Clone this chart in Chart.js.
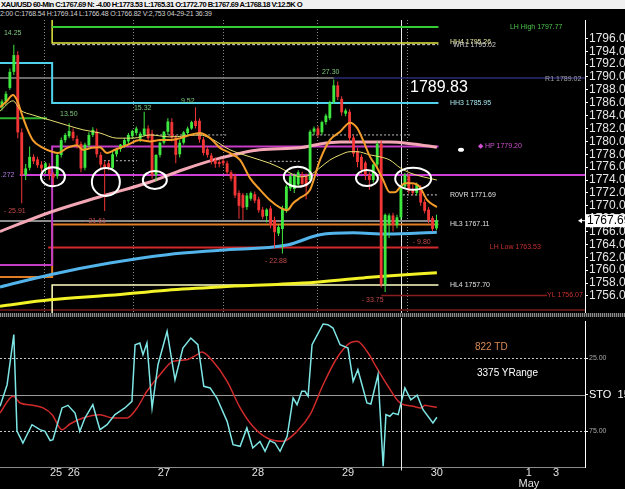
<!DOCTYPE html>
<html>
  <head>
    <meta charset="utf-8">
    <style>
      body {
        margin: 0;
        background: #000;
        width: 625px;
        height: 489px;
        overflow: hidden;
        position: relative;
        font-family: Arial, "Liberation Sans", sans-serif;
      }
      .quote {
        position: absolute; left: 0; top: 0; width: 625px; height: 9px;
        background: #f0f0f0; color: #000;
        font-size: 7.6px; font-weight: bold; line-height: 9px; letter-spacing: -0.55px;
        white-space: nowrap; padding-left: 1px; box-sizing: border-box;
      }
      .lastbar {
        position: absolute; left: 0; top: 9px; height: 9px;
        color: #d0d0d0; font-size: 7px; line-height: 9px; letter-spacing: -0.2px; white-space: nowrap;
      }
      #priceChart { position: absolute; left: 0; top: 20px; }
      #stoChart { position: absolute; left: 0; top: 318px; }
      .split {
        position: absolute; left: 0; top: 313px; width: 625px; height: 4px;
        background: repeating-linear-gradient(90deg, #8a8a8a 0 1px, #2a2a2a 1px 2px);
      }
      .note { position: absolute; font-size: 10px; white-space: nowrap; }
    </style>
    <script src="https://cdn.jsdelivr.net/npm/chart.js"></script>
  </head>
  <body>
    <div class="quote">XAU/USD 60-Min C:1767.69 N: -4.00 H:1773.53 L:1765.31 O:1772.70 B:1767.69 A:1768.18 V:12.5K O</div>
    <div class="lastbar">2:00 C:1768.54 H:1769.14 L:1766.48 O:1766.82 V:2,753 04-29-21 36:39</div>
    <canvas id="priceChart" width="625" height="293"></canvas>
    <div class="split"></div>
    <canvas id="stoChart" width="625" height="171"></canvas>
    <div class="note" style="left:475px; top:341px; color:#d98b55;">822 TD</div>
    <div class="note" style="left:477px; top:367px; color:#ffffff;">3375 YRange</div>
    <script>
      // 60 min bars, index 0 = first bar on screen
      var barOpen = [1785.3,1786.2,1788.3,1790.8,1793.4,1781.4,1774.8,1775.9,1777.6,1777.2,
        1776.4,1775.6,1776.2,1774.9,1774.6,1777.9,1780.2,1780.8,1781.5,1780.4,
        1779.6,1775.9,1779.4,1781.0,1781.5,1777.9,1776.4,1776.6,1775.9,1778.0,
        1778.8,1779.4,1780.0,1780.8,1781.3,1780.4,1781.0,1782.0,1781.2,1774.8,
        1777.9,1779.8,1781.5,1783.0,1780.6,1778.0,1779.8,1781.3,1782.0,1783.2,
        1783.2,1780.3,1778.8,1777.8,1777.1,1776.8,1777.0,1776.6,1775.2,1774.6,
        1772.0,1771.7,1769.8,1771.1,1771.8,1771.0,1769.4,1768.4,1769.6,1767.8,
        1765.7,1766.4,1769.3,1772.7,1772.6,1773.3,1774.8,1774.6,1774.0,1781.5,
        1782.0,1781.4,1783.0,1783.6,1786.1,1788.7,1786.6,1784.3,1784.6,1780.6,
        1778.5,1777.6,1776.7,1774.8,1774.0,1776.4,1779.6,1757.8,1767.2,1768.5,
        1767.0,1768.2,1773.0,1774.6,1772.6,1772.0,1772.9,1770.6,1769.4,1768.1,1766.5];
      var barHigh = [1786.5,1787.8,1791.3,1795.0,1794.0,1782.0,1776.5,1779.2,1778.0,1777.6,
        1776.9,1776.8,1776.6,1775.2,1778.2,1780.6,1781.3,1782.8,1782.0,1780.9,
        1780.0,1779.8,1781.4,1782.2,1782.0,1778.3,1776.9,1777.0,1778.4,1779.0,
        1779.6,1780.5,1781.3,1781.8,1782.3,1781.5,1784.6,1782.5,1781.8,1778.0,
        1780.0,1781.6,1783.6,1783.6,1781.0,1780.2,1781.6,1782.3,1783.2,1785.3,
        1783.6,1780.7,1779.2,1778.2,1777.5,1777.2,1777.3,1777.0,1775.5,1775.0,
        1772.4,1772.0,1772.0,1772.2,1772.2,1771.4,1769.8,1769.6,1770.0,1768.3,
        1767.0,1770.0,1773.3,1775.0,1775.0,1775.5,1775.3,1775.0,1781.8,1782.3,
        1782.4,1783.2,1784.3,1786.3,1789.6,1789.3,1787.0,1785.1,1785.0,1781.0,
        1779.0,1778.0,1777.0,1775.2,1776.6,1780.0,1780.2,1768.8,1768.8,1768.9,
        1768.6,1773.3,1775.1,1775.0,1773.3,1773.6,1773.2,1771.0,1769.8,1768.4,1768.6];
      var barLow = [1784.8,1785.6,1788.0,1790.3,1780.5,1770.4,1774.0,1775.5,1776.5,1775.9,
        1775.3,1775.0,1774.0,1773.0,1774.2,1777.5,1779.8,1780.5,1780.1,1778.9,
        1775.2,1775.5,1779.1,1780.7,1777.5,1775.8,1769.2,1775.5,1775.5,1777.6,
        1778.4,1779.0,1779.6,1780.4,1780.9,1779.9,1780.8,1780.0,1774.2,1773.8,
        1777.5,1779.5,1781.0,1780.0,1776.6,1777.5,1779.5,1781.0,1781.8,1782.0,
        1779.8,1777.8,1777.5,1776.4,1775.9,1776.0,1776.2,1774.8,1773.8,1771.2,
        1768.0,1767.8,1769.4,1770.8,1770.4,1768.9,1767.9,1767.4,1766.5,1763.5,
        1765.3,1762.6,1768.9,1772.3,1772.0,1773.0,1773.0,1771.0,1773.5,1781.0,
        1780.6,1781.0,1782.6,1783.3,1785.8,1786.4,1784.0,1783.9,1780.0,1777.6,
        1776.0,1775.0,1774.0,1772.5,1773.6,1776.0,1757.3,1756.6,1765.0,1766.0,
        1766.5,1767.8,1772.7,1771.9,1771.6,1771.6,1770.0,1768.8,1767.3,1766.0,1766.2];
      var barClose = [1786.2,1787.4,1790.8,1793.4,1781.4,1774.8,1775.8,1777.6,1776.9,1776.3,
        1775.8,1776.6,1774.9,1774.4,1777.9,1780.2,1781.0,1781.6,1780.5,1779.5,
        1775.8,1779.5,1781.0,1781.8,1778.0,1776.4,1775.9,1776.0,1778.0,1778.7,
        1779.5,1780.2,1781.0,1781.6,1782.0,1781.2,1782.0,1780.5,1774.8,1777.9,
        1779.8,1781.5,1783.1,1780.6,1777.9,1779.8,1781.4,1782.0,1783.0,1782.4,
        1780.3,1778.2,1777.9,1776.9,1776.5,1776.5,1776.6,1775.2,1774.2,1771.6,
        1770.0,1769.7,1771.6,1772.0,1770.8,1769.3,1768.3,1769.4,1767.0,1765.9,
        1766.7,1769.5,1773.0,1774.6,1774.7,1775.2,1773.4,1773.0,1781.5,1782.0,
        1781.0,1783.0,1784.0,1786.0,1788.7,1786.9,1784.5,1784.8,1780.5,1778.1,
        1776.8,1775.6,1774.8,1774.0,1776.4,1779.6,1757.8,1768.6,1768.5,1767.0,
        1768.2,1773.0,1774.8,1772.3,1772.0,1773.3,1770.5,1769.2,1767.8,1766.4,1767.7];
      var lastPrice = 1767.69;

      // moving averages: [bar index, price]
      var maFast = [[-0.5,1785.3],[1,1786.1],[2.8,1787.2],[3.8,1786.4],[5.1,1784.1],[6.3,1782.1],
        [7.8,1780.2],[10.4,1779.0],[12.7,1778.4],[14.2,1778.2],[16.5,1779.0],[19,1779.4],
        [20.5,1778.7],[22.8,1779.0],[24.8,1779.1],[26.6,1778.2],[28.6,1778.7],[31.6,1779.4],
        [34.9,1780.2],[37.5,1780.0],[40,1780.2],[42.5,1780.2],[45.1,1780.5],[47.6,1781.0],
        [50.1,1781.3],[52.7,1780.5],[55.2,1779.0],[57.7,1778.2],[60.3,1777.1],[62.8,1774.3],
        [65.3,1772.5],[67.8,1770.9],[70.4,1769.7],[72.2,1769.3],[73.7,1770.4],[75.4,1771.2],
        [78,1772.5],[80.5,1777.1],[83,1780.2],[85.6,1781.5],[88.1,1782.9],[89.9,1782.1],
        [91.4,1780.2],[93.2,1777.6],[94.9,1776.0],[96.5,1774.0],[98.2,1772.1],[99.5,1772.1],
        [100.8,1772.9],[102,1773.5],[103.8,1773.5],[105.8,1772.9],[107.6,1770.9],[110.1,1769.8]];
      var maMid = [[-0.5,1784.7],[2.8,1786.3],[4.6,1784.9],[7.8,1784.1],[12.2,1783.3],[16.5,1782.5],
        [20.5,1781.8],[24.8,1781.3],[29.1,1780.5],[33.2,1780.5],[37.5,1781.0],[42.5,1780.7],
        [50.1,1781.0],[52.7,1780.5],[57.7,1778.7],[62.8,1777.6],[67.8,1776.6],[70.4,1775.9],
        [72.9,1775.1],[75.4,1774.5],[78,1774.8],[80.5,1775.9],[83,1777.1],[85.6,1777.9],
        [88.1,1778.4],[89.9,1778.4],[93.2,1777.9],[95.7,1777.6],[98.2,1777.1],[100.8,1775.9],
        [103.3,1775.1],[106.6,1774.5],[110.1,1774.0]];
      var maPink = [[-0.5,1766.0],[12.2,1769.0],[24.8,1771.4],[37.5,1773.7],[45.8,1775.6],
        [55.2,1777.4],[65.3,1778.7],[75.4,1779.0],[80.5,1779.6],[85.6,1779.9],[98.2,1779.9],
        [104,1779.6],[110.1,1779.1]];
      var maBlue = [[-0.5,1757.4],[12.2,1759.3],[27.3,1761.1],[41.8,1762.4],[55.2,1763.1],
        [72.2,1763.9],[80.5,1765.5],[88.9,1765.8],[97.5,1765.6],[110.1,1765.9]];
      var maYellow = [[-0.5,1754.4],[12.2,1755.4],[27.3,1756.1],[41.8,1756.9],[55.2,1757.4],
        [76.2,1758.0],[91.4,1758.8],[97.5,1759.1],[110.1,1759.6]];

      // pivot and level lines: [bar index, price] vertices
      var lvlLHHigh = [[12.7,1797.77],[110.5,1797.77]];
      var lvlHH4 = [[12.7,1798.85],[12.7,1795.26],[110.5,1795.26]];
      var lvlWR1 = [[12.7,1795.02],[110.5,1795.02]];
      var lvlHH3 = [[-0.5,1792.17],[12.7,1792.17],[12.7,1785.95],[110.5,1785.95]];
      var lvlPrevHigh = [[-0.5,1789.83],[84,1789.83]];
      var lvlR1 = [[84,1789.83],[147.6,1789.83]];
      var lvlHP = [[-0.5,1760.8],[12.7,1760.8],[12.7,1779.20],[110.5,1779.20]];
      var lvlDrawn = [[4.5,1774.78],[147.6,1774.78]];
      var lvlGray = [[-0.5,1767.64],[110.5,1767.64]];
      var lvlHL3 = [[-0.5,1758.95],[12.7,1758.95],[12.7,1767.11],[110.5,1767.11]];
      var lvlLHLow = [[11.7,1763.53],[110.5,1763.53]];
      var lvlHL4 = [[12.7,1753.35],[12.7,1757.70],[110.5,1757.70]];
      var lvlYL = [[96,1756.07],[138,1756.07]];
      var lvlFloor = [[-0.5,1753.8],[147.6,1753.8]];
      var lvlLeftGreen = [[-0.5,1783.6],[11.4,1783.6]];
      var lvlROVR = [[101.5,1771.69],[110.5,1771.69]];
      var dotA = [[24.8,1777.0],[34.2,1777.0]];
      var dotB = [[35,1781.0],[57.2,1781.0]];
      var dotC = [[67.8,1776.9],[75.4,1776.9]];
      var dotD = [[78.5,1781.0],[103.3,1781.0]];

      // chart texts: text, bar index, price
      var noteText = ['14.25','- 25.91','13.50','- 31.61','15.32','9.52','- 22.88','27.30','- 33.75','- 9.80','.272',
        'LH High 1797.77','HH4 1795.26','WR1 1795.02','R1 1789.02','HH3 1785.95','\u25C6 HP 1779.20',
        'R0VR 1771.69','HL3 1767.11','LH Low 1763.53','HL4 1757.70','YL 1756.07'];
      var noteIdx = [0.5,0.5,14.7,20.8,33.4,45.3,66.6,81.0,91.1,104.0,-0.3,
        128.6,113.4,114.2,137.5,113.4,120.5,113.4,113.4,123.5,113.4,138.0];
      var notePrice = [1796.8,1769.2,1784.3,1767.6,1785.2,1786.3,1761.4,1790.8,1755.4,1764.4,1774.7,
        1797.77,1795.35,1794.9,1789.7,1785.95,1779.2,1771.69,1767.11,1763.53,1757.70,1756.07];
      var bigNoteText = '1789.83', bigNoteIdx = 103.3, bigNotePrice = 1788.3;

      // hand drawn circles (centre) and the small dot
      var circleIdx = [12.9, 26.3, 38.7, 74.9, 92.4, 104.1];
      var circlePrice = [1774.5, 1773.7, 1774.0, 1774.5, 1774.3, 1774.2];
      var dotIdx = 116.2, dotPrice = 1778.7;

      // stochastic: [bar index, value]
      var stoK = [[-0.5,58.1],[1.3,43.3],[3.0,9.0],[3.8,75.0],[5.3,83.2],[7.6,70.7],[9.6,74.1],[10.9,75.2],
        [12.2,81.6],[12.9,81.0],[15.2,59.2],[16.7,57.4],[18.5,62.7],[19.7,75.2],[21.0,66.1],[23.0,57.0],
        [24.8,74.1],[26.6,70.7],[28.6,63.8],[31.1,59.2],[32.9,54.7],[33.7,15.9],[34.9,14.7],[35.7,22.7],
        [36.7,14.7],[38.0,59.2],[39.5,29.6],[41.8,6.7],[43.8,39.9],[45.8,18.2],[47.8,11.3],[49.6,15.9],
        [51.1,44.4],[52.7,45.5],[54.4,52.4],[57.0,68.4],[58.5,84.4],[60.3,85.5],[62.0,72.9],[63.5,86.6],
        [65.3,82.1],[66.6,88.9],[67.8,81.6],[69.1,83.2],[70.4,88.9],[72.2,78.6],[73.7,52.4],[74.7,57.0],
        [75.9,47.8],[76.7,47.8],[77.5,51.2],[78.5,15.9],[81.3,1.7],[82.5,2.2],[83.8,4.5],[85.6,15.9],
        [87.6,18.2],[88.9,41.0],[90.1,33.0],[92.4,55.8],[93.4,56.5],[95.2,36.4],[96.5,99.2],[97.2,63.8],
        [98.2,64.9],[99.0,62.7],[100.3,63.8],[102.0,45.5],[103.5,53.6],[105.1,50.5],[106.6,60.4],
        [109.1,69.5],[110.1,65.6]];
      var stoD = [[-0.5,62.7],[2.8,51.2],[4.6,55.8],[7.8,57.4],[10.4,59.2],[12.7,63.8],[15.2,74.1],
        [17.2,70.2],[20.5,66.1],[24.8,63.8],[28.1,66.1],[31.6,66.1],[34.2,59.2],[36.7,47.8],[40.0,36.4],
        [43.3,27.3],[46.8,26.2],[49.4,22.7],[50.6,20.9],[53.4,27.3],[57.0,41.0],[60.3,59.2],[63.5,71.8],
        [67.1,79.8],[71.1,82.1],[74.7,75.2],[78.0,63.8],[81.3,43.3],[84.8,25.0],[88.1,14.7],[89.9,13.5],
        [92.4,20.4],[94.9,31.8],[97.5,43.3],[100.8,55.8],[104.1,58.1],[106.1,59.2],[107.1,57.4],
        [108.4,58.1],[110.1,58.8]];

      // axes
      var priceTicks = [1756,1758,1760,1762,1764,1766,1768,1770,1772,1774,1776,1778,1780,1782,1784,1786,1788,1790,1792,1794,1796];
      var stoTicks = [25, 50, 75];
      var dayTickIdx = [13.7, 18.2, 41.0, 64.8, 87.6, 110.1, 133.4, 140.3];
      var dayTickText = ['25', '26', '27', '28', '29', '30', ['1', 'May'], '3'];
      var sessionIdx = [10.6, 33.2, 56.0, 79.8, 102.5];
      var cursorIdx = 101.0;

      var xMin = -0.5, xMax = 147.6;
      var priceMin = 1753.35, priceMax = 1798.85;
      var FONT = 'Arial, "Liberation Sans", sans-serif';

      var noteColor = ['#7ec87e','#c24a4a','#7ec87e','#c24a4a','#7ec87e','#7ec87e','#c24a4a','#7ec87e','#c24a4a','#c24a4a','#b078e0',
        '#4cc44c','#e8e8a0','#c8c8c8','#a0a0a0','#a6e6ee','#d050d0','#e0e0e0','#e0e0e0','#c83030','#e0e0e0','#c83030'];

      function pts(list) {
        return list.map(function (p) { return { x: p[0], y: p[1] }; });
      }
      function levelLine(list, color, width, dash, order) {
        return { type: 'line', data: pts(list), borderColor: color, borderWidth: width, borderDash: dash || [],
          pointRadius: 0, tension: 0, fill: false, order: order };
      }
      function smoothLine(list, color, width, order) {
        return { type: 'line', data: pts(list), borderColor: color, borderWidth: width,
          pointRadius: 0, cubicInterpolationMode: 'monotone', fill: false, order: order };
      }

      var idx = barOpen.map(function (v, i) { return i; });
      var barColors = idx.map(function (i) { return barClose[i] >= barOpen[i] ? '#3fe83f' : '#f23636'; });

      var priceSets = [
        smoothLine(maFast, '#f39c2a', 2, 1),
        smoothLine(maMid, '#e8e070', 1, 2),
        { type: 'bar', data: idx.map(function (i) { return { x: i, y: [barOpen[i], barClose[i]] }; }),
          backgroundColor: barColors, maxBarThickness: 3, minBarLength: 1, grouped: false, order: 3 },
        { type: 'bar', data: idx.map(function (i) { return { x: i, y: [barLow[i], barHigh[i]] }; }),
          backgroundColor: barColors, maxBarThickness: 1, grouped: false, order: 4 },
        smoothLine(maPink, '#f3a7b5', 3, 5),
        smoothLine(maBlue, '#52b4ea', 3, 6),
        smoothLine(maYellow, '#f2f226', 3, 7),
        levelLine(lvlLHHigh, '#33cc33', 2, null, 10),
        levelLine(lvlHH4, '#e8e840', 1.5, null, 10),
        levelLine(lvlWR1, '#d8d8d8', 1, [3, 2], 10),
        levelLine(lvlHH3, '#4fd2ea', 2, null, 10),
        levelLine(lvlPrevHigh, '#8c8c8c', 1.5, null, 10),
        levelLine(lvlR1, '#2c2c78', 1.5, null, 10),
        levelLine(lvlHP, '#c53cc5', 2, null, 9),
        levelLine(lvlDrawn, '#d040d8', 2, null, 8),
        levelLine(lvlGray, '#8c8c8c', 2, null, 11),
        levelLine(lvlHL3, '#e07d25', 2, null, 10),
        levelLine(lvlLHLow, '#d22a2a', 2, null, 10),
        levelLine(lvlHL4, '#ffffc0', 1.5, null, 10),
        levelLine(lvlYL, '#8a1c1c', 1.5, null, 10),
        levelLine(lvlFloor, '#5a1212', 2, null, 10),
        levelLine(lvlLeftGreen, '#2fb52f', 2, null, 10),
        levelLine(lvlROVR, '#cfcfcf', 1, [2, 2], 10),
        levelLine(dotA, '#bdbdbd', 1, [2, 2], 10),
        levelLine(dotB, '#bdbdbd', 1, [2, 2], 10),
        levelLine(dotC, '#bdbdbd', 1, [2, 2], 10),
        levelLine(dotD, '#bdbdbd', 1, [2, 2], 10)
      ];

      function drawCursor(chart, bottomExtra) {
        var ctx = chart.ctx;
        var px = Math.round(chart.scales.x.getPixelForValue(cursorIdx)) + 0.5;
        ctx.save();
        ctx.strokeStyle = '#e8e8e8';
        ctx.lineWidth = 1;
        ctx.beginPath();
        ctx.moveTo(px, 0);
        ctx.lineTo(px, chart.chartArea.bottom + bottomExtra);
        ctx.stroke();
        ctx.restore();
      }

      var priceOverlay = {
        id: 'priceOverlay',
        beforeDatasetsDraw: function (chart) {
          var ctx = chart.ctx, xs = chart.scales.x, area = chart.chartArea;
          ctx.save();
          ctx.strokeStyle = '#8a8a8a';
          ctx.lineWidth = 1;
          ctx.setLineDash([1, 2]);
          sessionIdx.forEach(function (v) {
            var px = Math.round(xs.getPixelForValue(v)) + 0.5;
            ctx.beginPath();
            ctx.moveTo(px, area.top);
            ctx.lineTo(px, area.bottom);
            ctx.stroke();
          });
          ctx.restore();
          drawCursor(chart, 0);
        },
        afterDraw: function (chart) {
          var ctx = chart.ctx, xs = chart.scales.x, ys = chart.scales.y;
          ctx.save();
          // level and swing notes
          ctx.font = '7px ' + FONT;
          ctx.textBaseline = 'middle';
          ctx.textAlign = 'left';
          noteText.forEach(function (t, i) {
            ctx.fillStyle = noteColor[i];
            ctx.fillText(t, xs.getPixelForValue(noteIdx[i]), ys.getPixelForValue(notePrice[i]));
          });
          ctx.font = '16px ' + FONT;
          ctx.fillStyle = '#ffffff';
          ctx.fillText(bigNoteText, xs.getPixelForValue(bigNoteIdx), ys.getPixelForValue(bigNotePrice));

          // circles
          var rx = [12, 14, 12, 14, 11, 18], ry = [9.5, 14, 9, 10, 8, 11];
          ctx.strokeStyle = '#ffffff';
          ctx.lineWidth = 2;
          circleIdx.forEach(function (c, i) {
            ctx.beginPath();
            ctx.ellipse(xs.getPixelForValue(c), ys.getPixelForValue(circlePrice[i]), rx[i], ry[i], 0, 0, Math.PI * 2);
            ctx.stroke();
          });
          ctx.fillStyle = '#ffffff';
          ctx.beginPath();
          ctx.ellipse(xs.getPixelForValue(dotIdx), ys.getPixelForValue(dotPrice), 3, 2, 0, 0, Math.PI * 2);
          ctx.fill();

          // last price tag
          var py = ys.getPixelForValue(lastPrice);
          var left = chart.chartArea.right + 1;
          ctx.fillStyle = '#ffffff';
          ctx.fillRect(left, py - 6.5, 625 - left, 13);
          ctx.beginPath();
          ctx.moveTo(left - 8, py);
          ctx.lineTo(left - 4, py - 2.5);
          ctx.lineTo(left - 4, py + 2.5);
          ctx.closePath();
          ctx.fill();
          ctx.fillRect(left - 4, py - 0.5, 3, 1);
          ctx.fillStyle = '#000000';
          ctx.font = '12px ' + FONT;
          ctx.fillText(lastPrice.toFixed(2), left + 1, py + 0.5);
          ctx.restore();
        }
      };

      new Chart(document.getElementById('priceChart'), {
        type: 'bar',
        data: { datasets: priceSets },
        options: {
          responsive: false,
          animation: false,
          layout: { padding: 0, autoPadding: false },
          plugins: { legend: { display: false }, tooltip: { enabled: false } },
          scales: {
            x: { type: 'linear', min: xMin, max: xMax, offset: false, display: false },
            y: {
              position: 'right',
              min: priceMin,
              max: priceMax,
              afterBuildTicks: function (scale) {
                scale.ticks = priceTicks.map(function (v) { return { value: v }; });
              },
              afterFit: function (scale) {
                scale.width = 40;
                scale.paddingTop = 0;
                scale.paddingBottom = 0;
              },
              ticks: {
                autoSkip: false,
                padding: 1,
                color: '#e6e6e6',
                font: { family: FONT, size: 12 },
                callback: function (v) { return Number(v).toFixed(2); }
              },
              grid: { drawOnChartArea: false, drawTicks: true, tickLength: 3, color: '#ffffff' },
              border: { display: true, color: '#ffffff' }
            }
          }
        },
        plugins: [priceOverlay]
      });

      var stoOverlay = {
        id: 'stoOverlay',
        beforeDatasetsDraw: function (chart) {
          var ctx = chart.ctx, ys = chart.scales.y, area = chart.chartArea;
          ctx.save();
          ctx.lineWidth = 1;
          stoTicks.forEach(function (v) {
            var py = Math.round(ys.getPixelForValue(v)) + 0.5;
            ctx.strokeStyle = v === 50 ? '#9a9a9a' : '#c8c8c8';
            ctx.setLineDash(v === 50 ? [] : [2, 2]);
            ctx.beginPath();
            ctx.moveTo(area.left, py);
            ctx.lineTo(area.right, py);
            ctx.stroke();
          });
          ctx.restore();
          drawCursor(chart, 3);
        }
      };

      new Chart(document.getElementById('stoChart'), {
        type: 'line',
        data: {
          datasets: [
            { data: pts(stoK), borderColor: '#7fe6e6', borderWidth: 1.5, pointRadius: 0, tension: 0, order: 1 },
            { data: pts(stoD), borderColor: '#d02a2a', borderWidth: 1.5, pointRadius: 0,
              cubicInterpolationMode: 'monotone', order: 2 }
          ]
        },
        options: {
          responsive: false,
          animation: false,
          layout: { padding: { top: 3.5, left: 0, right: 0, bottom: 0 }, autoPadding: false },
          plugins: { legend: { display: false }, tooltip: { enabled: false } },
          scales: {
            x: {
              type: 'linear', min: xMin, max: xMax, offset: false,
              afterBuildTicks: function (scale) {
                scale.ticks = dayTickIdx.map(function (v) { return { value: v }; });
              },
              afterFit: function (scale) {
                scale.height = 21.5;
                scale.paddingLeft = 0;
                scale.paddingRight = 0;
              },
              ticks: {
                autoSkip: false,
                maxRotation: 0,
                padding: 0,
                color: '#e0e0e0',
                font: { family: FONT, size: 11, lineHeight: 1 },
                callback: function (v) {
                  var k = dayTickIdx.indexOf(v);
                  return k < 0 ? '' : dayTickText[k];
                }
              },
              grid: { drawOnChartArea: false, drawTicks: false },
              border: { display: true, color: '#8a8a8a' }
            },
            y: {
              position: 'right',
              reverse: true,
              min: 0,
              max: 100,
              afterBuildTicks: function (scale) {
                scale.ticks = stoTicks.map(function (v) { return { value: v }; });
              },
              afterFit: function (scale) {
                scale.width = 40;
                scale.paddingTop = 0;
                scale.paddingBottom = 0;
              },
              ticks: {
                autoSkip: false,
                padding: 1,
                color: function (c) { return c.tick && c.tick.value === 50 ? '#ffffff' : '#a8a8a8'; },
                font: function (c) {
                  return { family: FONT, size: c.tick && c.tick.value === 50 ? 11 : 7 };
                },
                callback: function (v) { return v === 50 ? 'STO  15.00' : Number(v).toFixed(2); }
              },
              grid: { drawOnChartArea: false, drawTicks: true, tickLength: 3, color: '#ffffff' },
              border: { display: true, color: '#ffffff' }
            }
          }
        },
        plugins: [stoOverlay]
      });
    </script>
  </body>
</html>
